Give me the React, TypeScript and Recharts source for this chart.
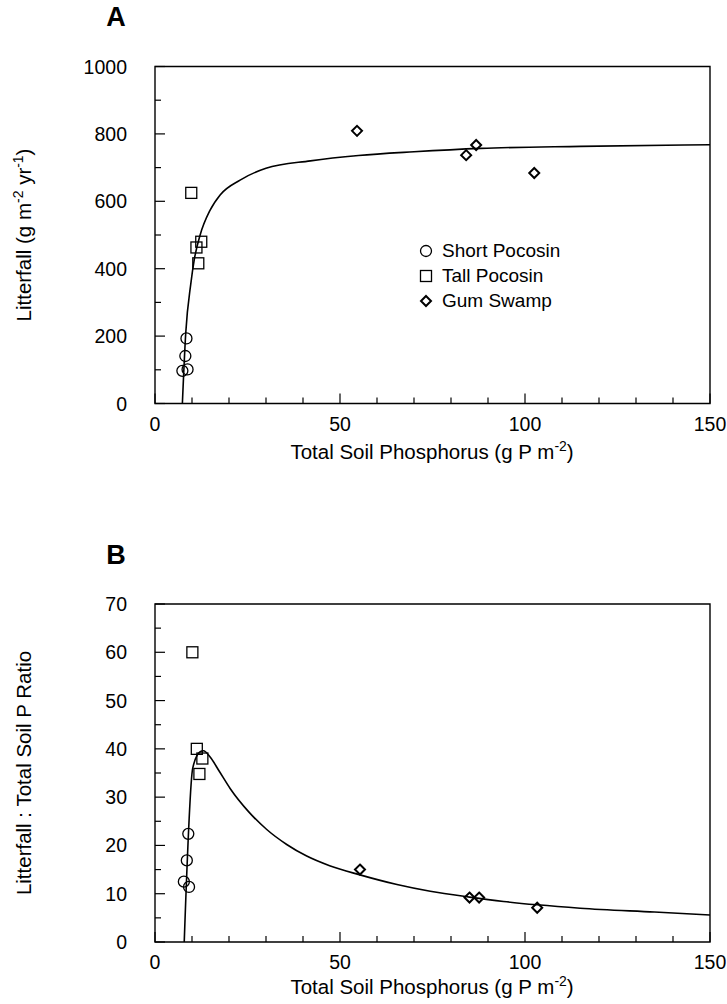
import React from 'react';
import { ComposedChart, Line, Scatter, XAxis, YAxis, ReferenceArea } from 'recharts';

const FONT = '"Liberation Sans", Arial, Helvetica, sans-serif';

// shared x axis (total soil P, g P m-2)
const xTicks = [0, 10, 20, 30, 40, 50, 60, 70, 80, 90, 100, 110, 120, 130, 140, 150];
const xLabels = [0, 50, 100, 150];

// panel A: litterfall (g m-2 yr-1)
const yTicksA = [0, 100, 200, 300, 400, 500, 600, 700, 800, 900, 1000];
const yLabelsA = [0, 200, 400, 600, 800, 1000];
const shortPocosinA = [
  { x: 7.4, y: 97 },
  { x: 8.8, y: 101 },
  { x: 8.2, y: 141 },
  { x: 8.5, y: 193 },
];
const tallPocosinA = [
  { x: 9.8, y: 625 },
  { x: 11.2, y: 463 },
  { x: 12.5, y: 480 },
  { x: 11.7, y: 416 },
];
const gumSwampA = [
  { x: 54.6, y: 809 },
  { x: 84.1, y: 737 },
  { x: 86.8, y: 767 },
  { x: 102.5, y: 684 },
];
const fitA = [
  { x: 7.4, y: 0 },
  { x: 8.3, y: 208 },
  { x: 9.7, y: 357 },
  { x: 10.6, y: 426 },
  { x: 12.2, y: 500 },
  { x: 14.9, y: 574 },
  { x: 17.6, y: 619 },
  { x: 23, y: 663 },
  { x: 30, y: 698 },
  { x: 42, y: 720 },
  { x: 55, y: 736 },
  { x: 70, y: 747 },
  { x: 88, y: 757 },
  { x: 115, y: 763 },
  { x: 150, y: 768 },
];

// panel B: litterfall : total soil P ratio
const yTicksB = [0, 5, 10, 15, 20, 25, 30, 35, 40, 45, 50, 55, 60, 65, 70];
const yLabelsB = [0, 10, 20, 30, 40, 50, 60, 70];
const shortPocosinB = [
  { x: 7.8, y: 12.5 },
  { x: 9.2, y: 11.4 },
  { x: 8.6, y: 16.9 },
  { x: 9.0, y: 22.4 },
];
const tallPocosinB = [
  { x: 10.1, y: 60 },
  { x: 11.3, y: 40 },
  { x: 12.8, y: 38 },
  { x: 12.0, y: 34.8 },
];
const gumSwampB = [
  { x: 55.4, y: 15 },
  { x: 85, y: 9.2 },
  { x: 87.6, y: 9.2 },
  { x: 103.3, y: 7.1 },
];
const fitB = [
  { x: 7.9, y: 0 },
  { x: 10.2, y: 36 },
  { x: 12.2, y: 39.4 },
  { x: 13.1, y: 39.6 },
  { x: 14.9, y: 38.3 },
  { x: 17.5, y: 35.2 },
  { x: 20.3, y: 31.8 },
  { x: 25.4, y: 26.9 },
  { x: 30.2, y: 23.3 },
  { x: 35.6, y: 20.2 },
  { x: 41, y: 17.8 },
  { x: 47.2, y: 15.8 },
  { x: 55.4, y: 13.9 },
  { x: 65.4, y: 11.9 },
  { x: 74.4, y: 10.5 },
  { x: 85, y: 9.3 },
  { x: 94.2, y: 8.4 },
  { x: 103.3, y: 7.7 },
  { x: 114.9, y: 7.0 },
  { x: 135, y: 6.2 },
  { x: 150, y: 5.6 },
];

const legendItems = ['Short Pocosin', 'Tall Pocosin', 'Gum Swamp'];

const CircleMark = (p: any) => (
  <circle cx={p.cx} cy={p.cy} r={5.5} fill="none" stroke="#000" strokeWidth={1.3} />
);
const SquareMark = (p: any) => (
  <rect x={p.cx - 5.5} y={p.cy - 5.5} width={11} height={11} fill="none" stroke="#000" strokeWidth={1.3} />
);
const DiamondMark = (p: any) => (
  <path
    d={`M${p.cx},${p.cy - 5}L${p.cx + 5},${p.cy}L${p.cx},${p.cy + 5}L${p.cx - 5},${p.cy}Z`}
    fill="none"
    stroke="#000"
    strokeWidth={2}
  />
);

const makeXTick = (labels: number[]) => (props: any) => {
  const { x, y, payload } = props;
  const major = labels.includes(payload.value);
  return (
    <g>
      <line x1={x} x2={x} y1={y} y2={y - (major ? 10 : 6)} stroke="#000" strokeWidth={1.2} />
      {major && (
        <text x={x} y={y + 27} textAnchor="middle" fontSize={19.5} fontFamily={FONT} fill="#000">
          {payload.value}
        </text>
      )}
    </g>
  );
};

const makeYTick = (labels: number[]) => (props: any) => {
  const { x, y, payload } = props;
  const major = labels.includes(payload.value);
  return (
    <g>
      <line x1={x} x2={x + (major ? 10 : 6)} y1={y} y2={y} stroke="#000" strokeWidth={1.2} />
      {major && (
        <text x={x - 28} y={y} dy="0.36em" textAnchor="end" fontSize={19.5} fontFamily={FONT} fill="#000">
          {payload.value}
        </text>
      )}
    </g>
  );
};

const Sup = ({ children }: { children: React.ReactNode }) => (
  <span style={{ fontSize: '0.68em', position: 'relative', top: '-0.55em' }}>{children}</span>
);

const XTitle = ({ top }: { top: number }) => (
  <div
    style={{
      position: 'absolute', left: 432, top, transform: 'translate(-50%, -50%)',
      whiteSpace: 'nowrap', fontSize: 20.5, fontFamily: FONT, lineHeight: 1,
    }}
  >
    Total Soil Phosphorus (g P m<Sup>-2</Sup>)
  </div>
);

const YTitle = ({ top, children }: { top: number; children: React.ReactNode }) => (
  <div
    style={{
      position: 'absolute', left: 24, top, transform: 'translate(-50%, -50%) rotate(-90deg)',
      whiteSpace: 'nowrap', fontSize: 20.5, fontFamily: FONT, lineHeight: 1,
    }}
  >
    {children}
  </div>
);

const PanelLetter = ({ top, children }: { top: number; children: React.ReactNode }) => (
  <div
    style={{
      position: 'absolute', left: 116, top, transform: 'translate(-50%, -50%)',
      fontSize: 27, fontWeight: 'bold', fontFamily: FONT, lineHeight: 1,
    }}
  >
    {children}
  </div>
);

const Legend = ({ top }: { top: number }) => {
  const marks = [CircleMark, SquareMark, DiamondMark];
  return (
    <div style={{ position: 'absolute', left: 416, top, fontFamily: FONT, fontSize: 19 }}>
      {legendItems.map((name, i) => {
        const M = marks[i];
        return (
          <div key={name} style={{ display: 'flex', alignItems: 'center', height: 25 }}>
            <svg width={20} height={20}>
              <M cx={10} cy={10} />
            </svg>
            <span style={{ marginLeft: 6 }}>{name}</span>
          </div>
        );
      })}
    </div>
  );
};

interface PanelProps {
  top: number;
  height: number;
  plotTop: number;
  plotBottom: number;
  yMax: number;
  yTicks: number[];
  yLabels: number[];
  fit: { x: number; y: number }[];
  shortP: { x: number; y: number }[];
  tallP: { x: number; y: number }[];
  gum: { x: number; y: number }[];
}

const X_AXIS_H = 40;
const Y_AXIS_W = 80;

const Panel = (p: PanelProps) => (
  <div style={{ position: 'absolute', left: 0, top: p.top }}>
    <ComposedChart
      width={727}
      height={p.height}
      margin={{
        top: p.plotTop,
        right: 17,
        bottom: p.height - p.plotBottom - X_AXIS_H,
        left: 155 - Y_AXIS_W,
      }}
    >
      <XAxis
        dataKey="x"
        type="number"
        domain={[0, 150]}
        ticks={xTicks}
        interval={0}
        height={X_AXIS_H}
        axisLine={false}
        tickLine={false}
        tickSize={0}
        tickMargin={0}
        tick={makeXTick(xLabels)}
        allowDataOverflow
      />
      <YAxis
        type="number"
        domain={[0, p.yMax]}
        ticks={p.yTicks}
        interval={0}
        width={Y_AXIS_W}
        axisLine={false}
        tickLine={false}
        tickSize={0}
        tickMargin={0}
        tick={makeYTick(p.yLabels)}
        allowDataOverflow
      />
      <ReferenceArea x1={0} x2={150} y1={0} y2={p.yMax} fill="none" stroke="#000" strokeWidth={1.4} />
      <Line
        data={p.fit}
        dataKey="y"
        type="monotone"
        dot={false}
        stroke="#000"
        strokeWidth={1.6}
        isAnimationActive={false}
      />
      <Scatter data={p.shortP} dataKey="y" shape={CircleMark} isAnimationActive={false} />
      <Scatter data={p.tallP} dataKey="y" shape={SquareMark} isAnimationActive={false} />
      <Scatter data={p.gum} dataKey="y" shape={DiamondMark} isAnimationActive={false} />
    </ComposedChart>
  </div>
);

export default function App() {
  return (
    <div style={{ position: 'absolute', left: 0, top: 0, width: 727, height: 1004, background: '#fff', overflow: 'hidden' }}>
      <PanelLetter top={17}>A</PanelLetter>
      <Panel
        top={0}
        height={500}
        plotTop={66.5}
        plotBottom={403.5}
        yMax={1000}
        yTicks={yTicksA}
        yLabels={yLabelsA}
        fit={fitA}
        shortP={shortPocosinA}
        tallP={tallPocosinA}
        gum={gumSwampA}
      />
      <Legend top={238} />
      <YTitle top={235}>
        Litterfall (g m<Sup>-2</Sup> yr<Sup>-1</Sup>)
      </YTitle>
      <XTitle top={452} />

      <PanelLetter top={555}>B</PanelLetter>
      <Panel
        top={530}
        height={474}
        plotTop={74}
        plotBottom={412}
        yMax={70}
        yTicks={yTicksB}
        yLabels={yLabelsB}
        fit={fitB}
        shortP={shortPocosinB}
        tallP={tallPocosinB}
        gum={gumSwampB}
      />
      <YTitle top={773}>Litterfall : Total Soil P Ratio</YTitle>
      <XTitle top={987} />
    </div>
  );
}
